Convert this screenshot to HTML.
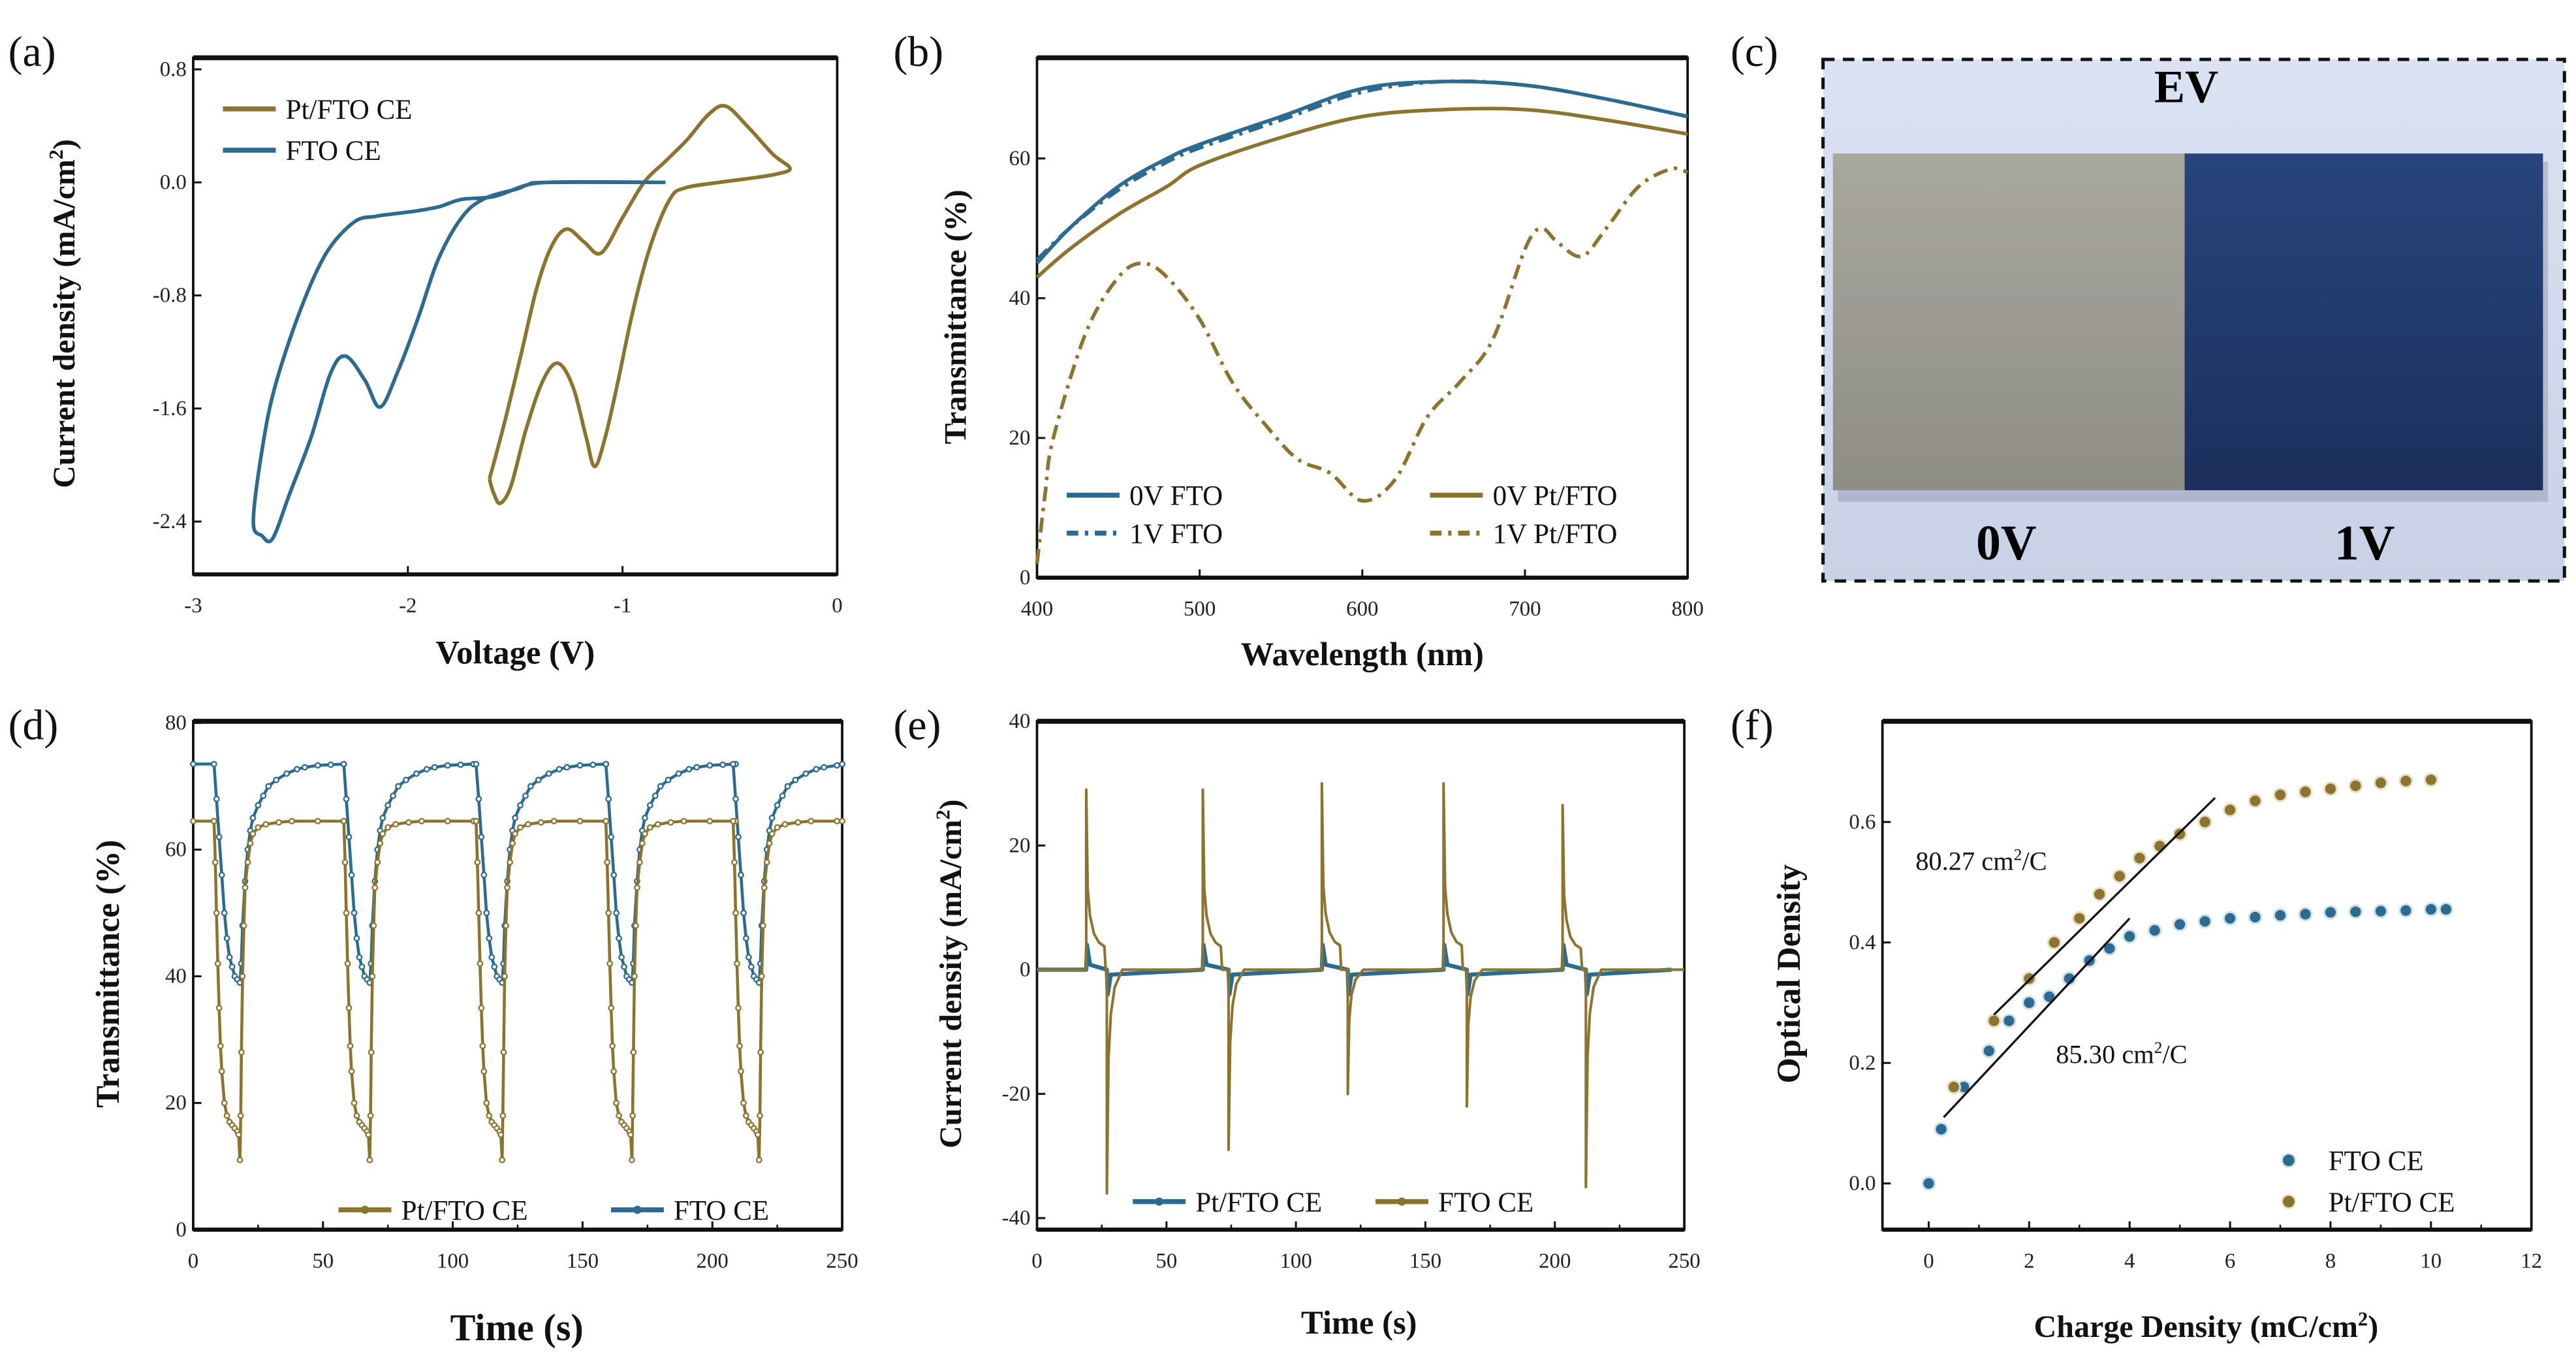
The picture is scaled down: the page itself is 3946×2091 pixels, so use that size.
<!DOCTYPE html>
<html><head><meta charset="utf-8"><style>
html,body{margin:0;padding:0;background:#fff;}
svg{display:block;font-family:"Liberation Serif",serif;}
</style></head><body>
<svg id="fig" width="3946" height="2091" viewBox="0 0 1560 827" preserveAspectRatio="none" xmlns="http://www.w3.org/2000/svg">
<defs>
<linearGradient id="bgc" x1="0" y1="0" x2="0" y2="1"><stop offset="0" stop-color="#dbe2f2"/><stop offset="1" stop-color="#c9d1e6"/></linearGradient>
<linearGradient id="gr" x1="0" y1="0" x2="0" y2="1"><stop offset="0" stop-color="#a9a89f"/><stop offset="1" stop-color="#8e8d86"/></linearGradient>
<linearGradient id="bl" x1="0" y1="0" x2="0" y2="1"><stop offset="0" stop-color="#27457c"/><stop offset="1" stop-color="#1c2f5c"/></linearGradient>
</defs>
<g id="panel-c">
<rect x="1104" y="36" width="449" height="316" fill="url(#bgc)" stroke="#111" stroke-width="2" stroke-dasharray="7,5"/>
<rect x="1113" y="98" width="430" height="206" fill="#8d93a8" opacity="0.45"/>
<rect x="1110" y="93" width="214" height="204" fill="url(#gr)"/>
<rect x="1323" y="93" width="217" height="204" fill="url(#bl)"/>
<text x="1324" y="62" font-size="28" font-weight="bold" text-anchor="middle">EV</text>
<text x="1215" y="339" font-size="30" font-weight="bold" text-anchor="middle">0V</text>
<text x="1432" y="339" font-size="30" font-weight="bold" text-anchor="middle">1V</text>
</g>
</svg>
<script>
const GOLD='#8a7430', BLUE='#2c6a90';
// (a) CV data
const cvPtV=[-1.62,-1.6,-1.57,-1.52,-1.45,-1.37,-1.3,-1.23,-1.17,-1.13,-1.08,-1.02,-0.95,-0.87,-0.78,-0.71,-0.55,-0.4,-0.28,-0.22,-0.3,-0.42,-0.52,-0.6,-0.7,-0.8,-0.9,-1.0,-1.1,-1.18,-1.26,-1.33,-1.4,-1.47,-1.55,-1.62];
const cvPtI=[-2.1,-2.2,-2.27,-2.15,-1.75,-1.4,-1.28,-1.45,-1.8,-2.01,-1.8,-1.4,-0.9,-0.45,-0.12,-0.04,0.0,0.03,0.06,0.1,0.2,0.4,0.54,0.48,0.3,0.15,0.0,-0.25,-0.5,-0.42,-0.33,-0.45,-0.75,-1.2,-1.7,-2.1];
const cvFtoV=[-0.8,-1.35,-1.5,-1.65,-1.75,-1.86,-1.95,-2.05,-2.13,-2.2,-2.29,-2.36,-2.45,-2.55,-2.63,-2.68,-2.72,-2.68,-2.62,-2.5,-2.38,-2.25,-2.15,-2.05,-1.95,-1.85,-1.75,-1.6,-1.45,-1.35,-0.8];
const cvFtoI=[0,0,-0.05,-0.12,-0.25,-0.55,-0.95,-1.35,-1.59,-1.4,-1.23,-1.35,-1.8,-2.2,-2.52,-2.5,-2.4,-1.9,-1.45,-0.9,-0.5,-0.28,-0.24,-0.22,-0.2,-0.17,-0.12,-0.1,-0.02,0,0];
const aYTicks=[0.8,0.0,-0.8,-1.6,-2.4], aXTicks=[-3,-2,-1,0];
// (b) transmittance spectra
const wl=[400,420,450,480,500,550,600,650,700,750,800];
const t0F=[45,50,56,60,62,66,70,71,70.5,68.5,66];
const t1F=[45.5,50,55.5,59.5,61.5,65.5,69.5,71,70.5,68.5,66];
const t0P=[43,47,52,56,59,63,66,67,67,65.5,63.5];
const wlP=[400,405,410,430,450,465,480,500,520,540,560,580,600,620,640,660,680,700,710,720,735,750,770,790,800];
const t1P=[2,12,20,35,43,45,43,37,28,22,17,15,11,14,23,28,34,47,50,48,46,50,56,58.5,58];
const bYTicks=[0,20,40,60], bXTicks=[400,500,600,700,800];
// (d) switching
const cycStart=[8,58,109,159,208];
const dBdt=[0,1,2,3,4,5,6,7,8,9,10,10.5,11,12,13,14,15,17,19,21,24,28,32,35,40,45,50];
const dBv=[73.5,68,62,56,50,46,43,41.5,40,39.5,39,42,48,55,60,63,65,67,68.5,70,71,72,72.7,73,73.3,73.4,73.5];
const dGdt=[0,0.5,1,1.5,2,2.5,3,4,5,6,7,8,9,9.5,10,10.3,10.6,11,11.5,12,13,14,15,17,20,25,30,40,50];
const dGv=[64.5,58,50,42,35,29,25,20,18,17,16.5,16,15.5,15,11,18,28,40,48,54,58,61,62.5,63.5,64,64.3,64.5,64.5,64.5];
const dYTicks=[0,20,40,60,80], dXTicks=[0,50,100,150,200,250];
// (e) current transients
const ePos=[19,64,110,157,203], ePosH=[29,29,30,30,26.5];
const eNeg=[27,74,120,166,212], eNegH=[-36,-29,-20,-22,-35];
const eYTicks=[-40,-20,0,20,40], eXTicks=[0,50,100,150,200,250];
// (f) optical density
const fBx=[0,0.25,0.7,1.2,1.6,2,2.4,2.8,3.2,3.6,4,4.5,5,5.5,6,6.5,7,7.5,8,8.5,9,9.5,10,10.3];
const fBy=[0,0.09,0.16,0.22,0.27,0.3,0.31,0.34,0.37,0.39,0.41,0.42,0.43,0.435,0.44,0.442,0.445,0.447,0.45,0.451,0.452,0.453,0.455,0.455];
const fGx=[0.5,1.3,2,2.5,3,3.4,3.8,4.2,4.6,5,5.5,6,6.5,7,7.5,8,8.5,9,9.5,10];
const fGy=[0.16,0.27,0.34,0.4,0.44,0.48,0.51,0.54,0.56,0.58,0.6,0.62,0.635,0.645,0.65,0.655,0.66,0.665,0.668,0.67];
const fitG=[[1.3,0.28],[5.7,0.64]], fitB=[[0.3,0.11],[4.0,0.44]];
const fYTicks=[0.0,0.2,0.4,0.6], fXTicks=[0,2,4,6,8,10,12];

const S=document.getElementById('fig'), NS='http://www.w3.org/2000/svg';
function mk(t,a,p){const e=document.createElementNS(NS,t);for(const k in a)e.setAttribute(k,a[k]);(p||S).appendChild(e);return e;}
function txt(p,x,y,s,size,o){const e=mk('text',Object.assign({x:x,y:y,'font-size':size},o||{}),p);e.textContent=s;return e;}
function lin(d0,d1,r0,r1){return v=>r0+(v-d0)*(r1-r0)/(d1-d0);}
function frame(name,L,T,R,B,X,Y,xt,yt,xfmt,yfmt,minor){
 const g=mk('g',{});
 
 
 const fr=mk('rect',{x:L,y:T,width:R-L,height:B-T,fill:'none',stroke:'#111','stroke-width':1.5},g);
 
 mk('line',{x1:L,x2:R,y1:T,y2:T,stroke:'#111','stroke-width':3},g);
 mk('line',{x1:L,x2:R,y1:B,y2:B,stroke:'#111','stroke-width':2.5},g);
 xt.forEach((v,i)=>{const x=X(v);mk('line',{x1:x,x2:x,y1:B,y2:B-5,stroke:'#111','stroke-width':1.2},g);
  const t=txt(g,x,B+23,xfmt(v),13,{'text-anchor':'middle',fill:'#222'});
  if(minor&&i<xt.length-1){const xm=(x+X(xt[i+1]))/2;mk('line',{x1:xm,x2:xm,y1:B,y2:B-3,stroke:'#111'},g);}});
 yt.forEach(v=>{const y=Y(v);mk('line',{x1:L,x2:L+5,y1:y,y2:y,stroke:'#111','stroke-width':1.2},g);
  const t=txt(g,L-4,y+4,yfmt(v),13,{'text-anchor':'end',fill:'#222'});});
 return g;}
function path(g,xs,ys,X,Y,st,name,smooth){
 const P=xs.map((v,i)=>[X(v),Y(ys[i])]);let d='M'+P[0][0].toFixed(1)+','+P[0][1].toFixed(1);
 if(smooth){for(let i=0;i<P.length-1;i++){const p0=P[Math.max(0,i-1)],p1=P[i],p2=P[i+1],p3=P[Math.min(P.length-1,i+2)];
  const c1=[p1[0]+(p2[0]-p0[0])/6,p1[1]+(p2[1]-p0[1])/6],c2=[p2[0]-(p3[0]-p1[0])/6,p2[1]-(p3[1]-p1[1])/6];
  d+='C'+c1.map(v=>v.toFixed(1)).join(',')+' '+c2.map(v=>v.toFixed(1)).join(',')+' '+p2.map(v=>v.toFixed(1)).join(',');}}
 else for(let i=1;i<P.length;i++)d+='L'+P[i][0].toFixed(1)+','+P[i][1].toFixed(1);
 const p=mk('path',Object.assign({d:d,fill:'none','stroke-linejoin':'round'},st),g);return p;}
function lbl(g,s,x,y,size,name,rot){const o={'text-anchor':'middle','font-weight':'bold',fill:'#111'};if(rot)o.transform='rotate(-90 '+x+' '+y+')';const t=txt(g,x,y,s,size,o);return t;}
function leg(g,x,y,c,s,dash,name,marker){const l=mk('line',{x1:x,x2:x+32,y1:y,y2:y,stroke:c,'stroke-width':3,'stroke-dasharray':dash||''},g);
 if(marker)mk('circle',{cx:x+16,cy:y,r:2.5,fill:c},g);
 const t=txt(g,x+38,y+6,s,17,{fill:'#111'});}
function panelLetter(s,x,y){const t=txt(S,x,y,s,26,{fill:'#111'});}

// (a)
{const X=lin(-3,0,117,507),Y=lin(0.8,-2.4,42,316);
 const g=frame('cv-chart',117,35,507,348,X,Y,aXTicks,aYTicks,v=>String(v),v=>v.toFixed(1));
 path(g,cvPtV,cvPtI,X,Y,{stroke:GOLD,'stroke-width':2.2},'pt-fto-cv-curve',true);
 path(g,cvFtoV,cvFtoI,X,Y,{stroke:BLUE,'stroke-width':2.2},'fto-cv-curve',true);
 leg(g,135,66,GOLD,'Pt/FTO CE','','legend-pt-fto');leg(g,135,91,BLUE,'FTO CE','','legend-fto');
 const t=lbl(g,'',45,190,19,'y-axis-title',true);t.innerHTML='Current density (mA/cm<tspan dy="-7" font-size="12">2</tspan><tspan dy="7">)</tspan>';
 lbl(g,'Voltage (V)',312,402,20,'x-axis-title');}
panelLetter('(a)',5,40);
// (b)
{const X=lin(400,800,628,1022),Y=lin(0,60,350,96);
 const g=frame('spectra-chart',628,35,1022,350,X,Y,bXTicks,bYTicks,v=>String(v),v=>String(v));
 path(g,wl,t0P,X,Y,{stroke:GOLD,'stroke-width':2.2},'0v-pt-fto-line',true);
 path(g,wlP,t1P,X,Y,{stroke:GOLD,'stroke-width':2.2,'stroke-dasharray':'9,4,2,4'},'1v-pt-fto-line',true);
 path(g,wl,t1F,X,Y,{stroke:BLUE,'stroke-width':2.2,'stroke-dasharray':'9,4,2,4'},'1v-fto-line',true);
 path(g,wl,t0F,X,Y,{stroke:BLUE,'stroke-width':2.2},'0v-fto-line',true);
 leg(g,646,300,BLUE,'0V FTO','','legend-0v-fto');leg(g,646,323,BLUE,'1V FTO','7,4,2,4','legend-1v-fto');
 leg(g,866,300,GOLD,'0V Pt/FTO','','legend-0v-pt');leg(g,866,323,GOLD,'1V Pt/FTO','7,4,2,4','legend-1v-pt');
 lbl(g,'Transmittance (%)',585,192,19,'y-axis-title',true);
 lbl(g,'Wavelength (nm)',825,403,20,'x-axis-title');}
panelLetter('(b)',541,40);panelLetter('(c)',1048,40);
// (d)
{const X=lin(0,250,117,510),Y=lin(0,80,745,438);
 const g=frame('switching-chart',117,437,510,745,X,Y,dXTicks,dYTicks,v=>String(v),v=>String(v),true);
 function series(dt,dv,pre,c,name){const xs=[0],ys=[pre];cycStart.forEach(s=>dt.forEach((d,i)=>{if(s+d<=250){xs.push(s+d);ys.push(dv[i]);}}));
  if(xs[xs.length-1]<250){xs.push(250);ys.push(dv[dv.length-1]);}
  path(g,xs,ys,X,Y,{stroke:c,'stroke-width':1.8},name);
  xs.forEach((x,i)=>{mk('circle',{cx:X(x),cy:Y(ys[i]),r:1.5,fill:'#fff',stroke:c,'stroke-width':0.9},g);});}
 series(dBdt,dBv,73.5,BLUE,'fto-transmittance-line');series(dGdt,dGv,64.5,GOLD,'pt-fto-transmittance-line');
 leg(g,205,733,GOLD,'Pt/FTO CE','','legend-pt-fto',true);leg(g,370,733,BLUE,'FTO CE','','legend-fto',true);
 lbl(g,'Transmittance (%)',72,590,20,'y-axis-title',true);
 lbl(g,'Time (s)',313,812,23,'x-axis-title');}
panelLetter('(d)',5,448);
// (e)
{const X=lin(0,250,628,1020),Y=lin(40,-40,437,738);
 const g=frame('current-chart',628,437,1020,745,X,Y,eXTicks,eYTicks,v=>String(v),v=>String(v),true);
 const gx=[0],gy=[0],bx=[0],by=[0];
 ePos.forEach((p,i)=>{const n=eNeg[i],h=ePosH[i],k=eNegH[i];
  gx.push(p,p,p+0.6,p+1.5,p+3,p+5,p+7,p+7.5,n,n,n+0.6,n+1.5,n+3,n+6);
  gy.push(0,h,h*0.45,h*0.3,h*0.2,h*0.15,h*0.13,0,0,k,k*0.4,k*0.2,k*0.08,0);
  bx.push(p,p+0.3,p+1.5,n,n+0.3,n+1.5);by.push(0,4,0.8,0,-4,-0.8);});
 gx.push(250);gy.push(0);bx.push(245);by.push(0);
 path(g,bx,by,X,Y,{stroke:BLUE,'stroke-width':2.5},'pt-fto-current-line');
 path(g,gx,gy,X,Y,{stroke:GOLD,'stroke-width':1.6},'fto-current-line');
 leg(g,686,728,BLUE,'Pt/FTO CE','','legend-pt-fto',true);leg(g,833,728,GOLD,'FTO CE','','legend-fto',true);
 const t=lbl(g,'',582,590,19,'y-axis-title',true);t.innerHTML='Current density (mA/cm<tspan dy="-7" font-size="12">2</tspan><tspan dy="7">)</tspan>';
 lbl(g,'Time (s)',823,808,20,'x-axis-title');}
panelLetter('(e)',541,448);
// (f)
{const X=lin(0,12,1168,1533),Y=lin(0,0.6,717,498);
 const g=frame('optical-density-chart',1140,437,1533,745,X,Y,fXTicks,fYTicks,v=>String(v),v=>v.toFixed(1),true);
 fBx.forEach((x,i)=>{const c=mk('circle',{cx:X(x),cy:Y(fBy[i]),r:3.8,fill:BLUE,stroke:'#cfe0ea','stroke-width':1.2},g);});
 fGx.forEach((x,i)=>{const c=mk('circle',{cx:X(x),cy:Y(fGy[i]),r:3.8,fill:GOLD,stroke:'#e8dfc4','stroke-width':1.2},g);});
 path(g,fitG.map(p=>p[0]),fitG.map(p=>p[1]),X,Y,{stroke:'#111','stroke-width':1.3},'pt-fto-fit-line');
 path(g,fitB.map(p=>p[0]),fitB.map(p=>p[1]),X,Y,{stroke:'#111','stroke-width':1.3},'fto-fit-line');
 const a=txt(g,1160,527,'',16,{fill:'#111'});a.innerHTML='80.27 cm<tspan dy="-6" font-size="10">2</tspan><tspan dy="6">/C</tspan>';
 const b=txt(g,1245,644,'',16,{fill:'#111'});b.innerHTML='85.30 cm<tspan dy="-6" font-size="10">2</tspan><tspan dy="6">/C</tspan>';
 mk('circle',{cx:1386,cy:703,r:4,fill:BLUE,stroke:'#cfe0ea'},g);mk('circle',{cx:1386,cy:728,r:4,fill:GOLD,stroke:'#e8dfc4'},g);
 const l1=txt(g,1410,709,'FTO CE',17,{fill:'#111'});
 const l2=txt(g,1410,734,'Pt/FTO CE',17,{fill:'#111'});
 lbl(g,'Optical Density',1090,590,20,'y-axis-title',true);
 const t=lbl(g,'',1336,810,19,'x-axis-title');t.innerHTML='Charge Density (mC/cm<tspan dy="-7" font-size="12">2</tspan><tspan dy="7">)</tspan>';}
panelLetter('(f)',1048,448);
</script>
</body></html>
